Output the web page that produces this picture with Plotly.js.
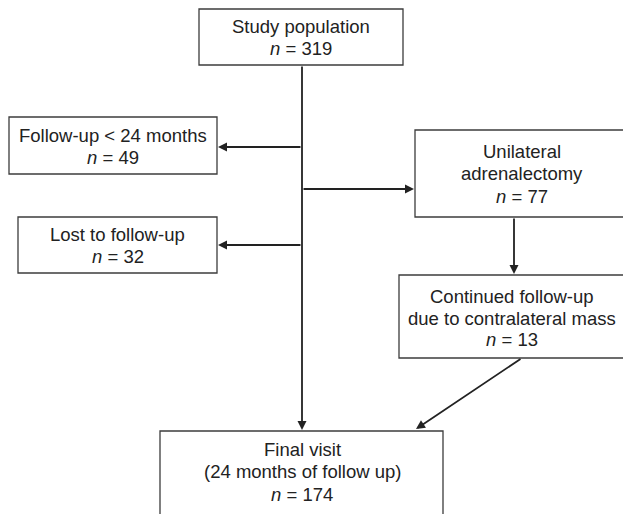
<!DOCTYPE html>
<html>
<head>
<meta charset="utf-8">
<script src="https://cdn.plot.ly/plotly-3.0.1.min.js"></script>
<style>html,body{margin:0;padding:0;background:#fff;}#chart{width:623px;height:514px;}</style>
</head>
<body>
<div id="chart"></div>
<script>
// ---- data ----
const stages = ["Study population", "Follow-up < 24 months", "Unilateral adrenalectomy",
                "Lost to follow-up", "Continued follow-up due to contralateral mass", "Final visit"];
const labelLines = [
  ["Study population"],
  ["Follow-up < 24 months"],
  ["Unilateral", "adrenalectomy"],
  ["Lost to follow-up"],
  ["Continued follow-up", "due to contralateral mass"],
  ["Final visit", "(24 months of follow up)"]
];
const nValues = [319, 49, 77, 32, 13, 174];

// ---- layout geometry (pixel space) ----
const boxes = [
  {x0:199, x1:403, y0:9,   y1:65,  cx:301,   lineY:[26, 47.5]},
  {x0:9,   x1:217, y0:117, y1:174, cx:113,   lineY:[134.5, 157]},
  {x0:415, x1:629, y0:130, y1:217, cx:522,   lineY:[151, 173, 196]},
  {x0:18,  x1:217, y0:217, y1:273, cx:117.5, lineY:[234, 256]},
  {x0:399, x1:625, y0:275, y1:358, cx:512,   lineY:[296, 318, 339]},
  {x0:160, x1:443, y0:431, y1:540, cx:302,   lineY:[449, 471, 493.5]}
];
const arrows = [
  {ax:302, ay:65,  x:302, y:430},
  {ax:302, ay:147, x:218, y:147},
  {ax:302, ay:189, x:414, y:189},
  {ax:302, ay:245, x:218, y:245},
  {ax:514, ay:217, x:514, y:274},
  {ax:522, ay:358, x:416, y:429}
];

const textColor = "#222";
const font = {family:"Liberation Sans, Arial, sans-serif", size:18.5, color:textColor};

const shapes = boxes.map(b => ({
  type:"rect", xref:"x", yref:"y", x0:b.x0, x1:b.x1, y0:b.y0, y1:b.y1,
  line:{color:"#3c3c3c", width:1.3}, fillcolor:"rgba(0,0,0,0)", layer:"above"
}));

const annotations = [];
boxes.forEach((b, i) => {
  const lines = labelLines[i].concat(["<i>n</i> = " + nValues[i]]);
  lines.forEach((t, j) => {
    annotations.push({
      x:b.cx, y:b.lineY[j] + 0.5, xref:"x", yref:"y", text:t, showarrow:false,
      xanchor:"center", yanchor:"middle", font:font
    });
  });
});
arrows.forEach(a => {
  annotations.push({
    x:a.x, y:a.y, ax:a.ax, ay:a.ay, xref:"x", yref:"y", axref:"x", ayref:"y",
    text:"", showarrow:true, arrowhead:2, arrowsize:1, arrowwidth:1.8,
    arrowcolor:"#222", standoff:0, startstandoff:0
  });
});

const layout = {
  width:623, height:514,
  margin:{l:0, r:0, t:0, b:0},
  paper_bgcolor:"#fff", plot_bgcolor:"#fff",
  xaxis:{range:[0,623], visible:false, fixedrange:true},
  yaxis:{range:[514,0], visible:false, fixedrange:true},
  showlegend:false,
  shapes:shapes,
  annotations:annotations
};

Plotly.newPlot("chart", [{x:[], y:[], type:"scatter", mode:"markers", hoverinfo:"skip"}], layout,
  {staticPlot:true, displayModeBar:false});
</script>
</body>
</html>
